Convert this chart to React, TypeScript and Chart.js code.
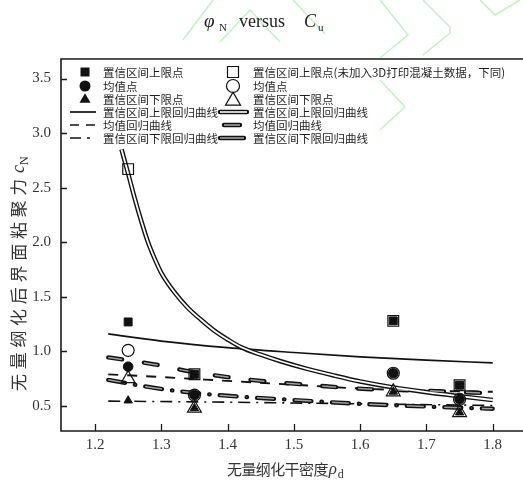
import React, { useEffect, useRef } from "react";
import { Chart, registerables } from "chart.js";

Chart.register(...registerables);

// Axis ticks
const densityTicks = [1.2, 1.3, 1.4, 1.5, 1.6, 1.7, 1.8];
const cohesionTicks = [0.5, 1.0, 1.5, 2.0, 2.5, 3.0, 3.5];

// Measured points, all specimens
const densities = [1.25, 1.35, 1.65, 1.75];
const upperPoints = [1.27, 0.79, 1.28, 0.69];
const meanPoints = [0.86, 0.6, 0.8, 0.56];
const lowerPoints = [0.55, 0.48, 0.63, 0.44];

// Measured points without the 3D printed concrete specimens
const upperPointsNo3D = [2.67, 0.79, 1.28, 0.69];
const meanPointsNo3D = [1.01, 0.6, 0.8, 0.56];
const lowerPointsNo3D = [0.75, 0.48, 0.63, 0.44];

// Regression curves, all specimens
const upperFitX = [1.22, 1.3, 1.4, 1.5, 1.6, 1.7, 1.8];
const upperFitY = [1.16, 1.095, 1.035, 0.99, 0.95, 0.92, 0.895];
const meanFitX = [1.22, 1.3, 1.4, 1.5, 1.6, 1.7, 1.8];
const meanFitY = [0.79, 0.765, 0.73, 0.695, 0.66, 0.64, 0.63];
const lowerFitX = [1.22, 1.4, 1.6, 1.8];
const lowerFitY = [0.545, 0.535, 0.52, 0.505];

// Regression curves without the 3D printed concrete specimens
const upperFitNo3DX = [
  1.24, 1.25, 1.26, 1.27, 1.28, 1.29, 1.3, 1.32, 1.34, 1.36, 1.38, 1.4, 1.42, 1.45, 1.48, 1.52, 1.56, 1.6, 1.65,
  1.7, 1.75, 1.8,
];
const upperFitNo3DY = [
  2.85, 2.63, 2.4, 2.19, 2.0, 1.85, 1.72, 1.54, 1.4, 1.29, 1.19, 1.11, 1.04, 0.97, 0.91, 0.84, 0.78, 0.725, 0.67,
  0.627, 0.59, 0.555,
];
const meanFitNo3DX = [1.22, 1.26, 1.3, 1.34, 1.4, 1.45, 1.51, 1.56, 1.61, 1.7, 1.8];
const meanFitNo3DY = [0.945, 0.91, 0.87, 0.82, 0.765, 0.73, 0.7, 0.675, 0.655, 0.64, 0.615];
const lowerFitNo3DX = [1.22, 1.29, 1.35, 1.42, 1.5, 1.6, 1.7, 1.8];
const lowerFitNo3DY = [0.74, 0.665, 0.62, 0.585, 0.555, 0.52, 0.495, 0.475];

// Legend entries
const legendLeft = ["置信区间上限点", "均值点", "置信区间下限点", "置信区间上限回归曲线", "均值回归曲线", "置信区间下限回归曲线"];
const legendRight = ["置信区间上限点(未加入3D打印混凝土数据，下同)", "均值点", "置信区间下限点", "置信区间上限回归曲线", "均值回归曲线", "置信区间下限回归曲线"];

const yAxisTitle = "无量纲化后界面粘聚力";
const xAxisTitle = "无量纲化干密度";

const INK = "#111";
const CJK = '"Noto Sans CJK SC", sans-serif';
const SERIF = '"Liberation Serif", "DejaVu Serif", serif';

const W = 523;
const H = 488;

const pts = (xs: number[], ys: number[]) => xs.map((x, i) => ({ x, y: ys[i] }));

const markerSet = (label: string, ys: number[], style: string, radius: number, filled: boolean) => ({
  label,
  data: pts(densities, ys),
  showLine: false,
  pointStyle: style,
  pointRadius: radius,
  pointBackgroundColor: filled ? INK : "rgba(0,0,0,0)",
  pointBorderColor: INK,
  pointBorderWidth: filled ? 1 : 1.2,
  order: 0,
});

const curve = (label: string, xs: number[], ys: number[], extra: any) => ({
  label,
  data: pts(xs, ys),
  showLine: true,
  pointRadius: 0,
  borderColor: INK,
  backgroundColor: "rgba(0,0,0,0)",
  fill: false,
  cubicInterpolationMode: "monotone",
  borderJoinStyle: "round",
  ...extra,
});

function drawMarker(ctx: CanvasRenderingContext2D, style: string, x: number, y: number, size: number, filled: boolean) {
  ctx.beginPath();
  if (style === "square") {
    ctx.rect(x - size / 2, y - size / 2, size, size);
  } else if (style === "circle") {
    ctx.arc(x, y, size / 2, 0, Math.PI * 2);
  } else {
    const h = size * 0.87;
    ctx.moveTo(x, y - h * 0.6);
    ctx.lineTo(x + size / 2, y + h * 0.4);
    ctx.lineTo(x - size / 2, y + h * 0.4);
    ctx.closePath();
  }
  if (filled) {
    ctx.fillStyle = INK;
    ctx.fill();
  } else {
    ctx.lineWidth = 1.2;
    ctx.strokeStyle = INK;
    ctx.stroke();
  }
}

function drawSample(
  ctx: CanvasRenderingContext2D,
  x0: number,
  x1: number,
  y: number,
  dash: number[],
  outlined: boolean,
  inner = "#a0a0a0"
) {
  ctx.save();
  ctx.beginPath();
  ctx.moveTo(x0, y);
  ctx.lineTo(x1, y);
  ctx.setLineDash(dash);
  if (outlined) {
    ctx.lineCap = "round";
    ctx.lineWidth = 4.4;
    ctx.strokeStyle = INK;
    ctx.stroke();
    ctx.lineCap = "butt";
    ctx.lineWidth = 1.6;
    ctx.strokeStyle = inner;
    ctx.stroke();
  } else {
    ctx.lineCap = "butt";
    ctx.lineWidth = 1.7;
    ctx.strokeStyle = INK;
    ctx.stroke();
  }
  ctx.restore();
}

// Faint green background strokes
const greenStrokes: number[][][] = [
  [[183, 40], [213, 0]],
  [[220, 42], [250, 10], [280, 42]],
  [[293, 0], [325, 34]],
  [[380, 0], [408, 35], [380, 58]],
  [[423, 0], [450, 27], [450, 33], [423, 55]],
  [[480, 0], [495, 15], [520, 0]],
  [[380, 80], [405, 107], [380, 130]],
];

const decorPlugin = {
  id: "decor",
  beforeDraw(chart: any) {
    const ctx = chart.ctx as CanvasRenderingContext2D;
    ctx.save();
    ctx.fillStyle = "#fff";
    ctx.fillRect(0, 0, chart.width, chart.height);
    ctx.strokeStyle = "rgba(140, 235, 140, 0.55)";
    ctx.lineWidth = 1.6;
    ctx.lineJoin = "round";
    greenStrokes.forEach((s) => {
      ctx.beginPath();
      s.forEach(([x, y], i) => (i ? ctx.lineTo(x, y) : ctx.moveTo(x, y)));
      ctx.stroke();
    });
    ctx.restore();
  },
  afterDraw(chart: any) {
    const ctx = chart.ctx as CanvasRenderingContext2D;
    const { left, top, bottom } = chart.chartArea;
    const xs = chart.scales.x;
    const ys = chart.scales.y;
    ctx.save();

    // frame and inward ticks
    ctx.strokeStyle = "#1a1a1a";
    ctx.lineWidth = 1.6;
    ctx.beginPath();
    ctx.moveTo(W, top);
    ctx.lineTo(left, top);
    ctx.lineTo(left, bottom);
    ctx.lineTo(W, bottom);
    ctx.stroke();
    ctx.lineWidth = 1.3;
    ctx.beginPath();
    cohesionTicks.forEach((v) => {
      const py = Math.round(ys.getPixelForValue(v)) + 0.5;
      ctx.moveTo(left, py);
      ctx.lineTo(left + 6, py);
    });
    densityTicks.forEach((v) => {
      const px = Math.round(xs.getPixelForValue(v)) + 0.5;
      ctx.moveTo(px, bottom);
      ctx.lineTo(px, bottom - 7);
    });
    ctx.stroke();

    // title
    ctx.fillStyle = "#222";
    ctx.textBaseline = "alphabetic";
    ctx.textAlign = "left";
    ctx.font = `italic 19px ${SERIF}`;
    ctx.fillText("φ", 204, 27);
    ctx.font = `11px ${SERIF}`;
    ctx.fillText("N", 219, 31);
    ctx.font = `18px ${SERIF}`;
    ctx.fillText("versus", 239, 27);
    ctx.font = `italic 18px ${SERIF}`;
    ctx.fillText("C", 304, 27);
    ctx.font = `11px ${SERIF}`;
    ctx.fillText("u", 318, 31);

    // x axis title
    ctx.fillStyle = "#333";
    ctx.font = `15px ${CJK}`;
    ctx.textBaseline = "middle";
    let cx = 227;
    for (const ch of xAxisTitle) {
      ctx.fillText(ch, cx, 469);
      cx += 14.4;
    }
    ctx.textBaseline = "alphabetic";
    ctx.font = `italic 17px ${SERIF}`;
    ctx.fillText("ρ", cx + 1, 474);
    ctx.font = `12px ${SERIF}`;
    ctx.fillText("d", cx + 10, 478);

    // y axis title
    ctx.save();
    ctx.translate(19, 391);
    ctx.rotate(-Math.PI / 2);
    ctx.font = `17px ${CJK}`;
    ctx.textBaseline = "middle";
    let cy = 0;
    for (const ch of yAxisTitle) {
      ctx.fillText(ch, cy, 0);
      cy += 21.7;
    }
    ctx.textBaseline = "alphabetic";
    ctx.font = `italic 18px ${SERIF}`;
    ctx.fillText("c", cy + 1, 5);
    ctx.font = `12px ${SERIF}`;
    ctx.fillText("N", cy + 9, 9);
    ctx.restore();

    // legend
    const rows = [72, 86, 99, 112, 125, 138];
    ctx.font = `11.5px ${CJK}`;
    ctx.fillStyle = "#1e1e1e";
    ctx.textBaseline = "middle";
    legendLeft.forEach((t, i) => ctx.fillText(t, 103, rows[i] + 0.5));
    legendRight.forEach((t, i) => ctx.fillText(t, 253, rows[i] + 0.5));

    drawMarker(ctx, "square", 85, rows[0], 9, true);
    drawMarker(ctx, "circle", 85, rows[1], 11, true);
    drawMarker(ctx, "triangle", 85, rows[2], 11, true);
    drawSample(ctx, 70, 96, rows[3], [], false);
    drawSample(ctx, 70, 96, rows[4], [9, 7], false);
    drawSample(ctx, 70, 96, rows[5], [11, 6, 3, 6], false);

    drawMarker(ctx, "square", 233, rows[0], 11, false);
    drawMarker(ctx, "circle", 233, rows[1], 13, false);
    drawMarker(ctx, "triangle", 233, rows[2] + 1, 15, false);
    drawSample(ctx, 220, 247, rows[3], [], true, "#fff");
    drawSample(ctx, 224, 240, rows[4], [], true);
    drawSample(ctx, 220, 244, rows[5], [], true);

    ctx.restore();
  },
};

export default function App() {
  const ref = useRef<HTMLCanvasElement | null>(null);

  useEffect(() => {
    if (!ref.current) return;
    const outlinedDash = [14, 22];
    const outlinedDashDot = [17, 10, 0.5, 10];
    const chart = new Chart(ref.current, {
      type: "scatter",
      data: {
        datasets: [
          markerSet("置信区间上限点", upperPoints, "rect", 5.6, true),
          markerSet("均值点", meanPoints, "circle", 4.8, true),
          markerSet("置信区间下限点", lowerPoints, "triangle", 4.8, true),
          markerSet("置信区间上限点(未加入3D打印混凝土数据，下同)", upperPointsNo3D, "rect", 7.6, false),
          markerSet("均值点 ", meanPointsNo3D, "circle", 6, false),
          markerSet("置信区间下限点 ", lowerPointsNo3D, "triangle", 8, false),

          curve("置信区间上限回归曲线", upperFitX, upperFitY, { borderWidth: 1.7, order: 3 }),
          curve("均值回归曲线", meanFitX, meanFitY, { borderWidth: 1.9, borderDash: [10, 9], order: 3 }),
          curve("置信区间下限回归曲线", lowerFitX, lowerFitY, { borderWidth: 1.6, borderDash: [12, 6, 2, 6], order: 3 }),

          curve("置信区间上限回归曲线 ", upperFitNo3DX, upperFitNo3DY, { borderWidth: 4.6, order: 2 }),
          curve("", upperFitNo3DX, upperFitNo3DY, { borderWidth: 1.8, borderColor: "#fff", order: 1 }),
          curve("均值回归曲线 ", meanFitNo3DX, meanFitNo3DY, {
            borderWidth: 4.3,
            borderDash: outlinedDash,
            borderCapStyle: "round",
            order: 2,
          }),
          curve("", meanFitNo3DX, meanFitNo3DY, {
            borderWidth: 1.5,
            borderDash: outlinedDash,
            borderColor: "#a0a0a0",
            order: 1,
          }),
          curve("置信区间下限回归曲线 ", lowerFitNo3DX, lowerFitNo3DY, {
            borderWidth: 4.3,
            borderDash: outlinedDashDot,
            borderCapStyle: "round",
            order: 2,
          }),
          curve("", lowerFitNo3DX, lowerFitNo3DY, {
            borderWidth: 1.5,
            borderDash: outlinedDashDot,
            borderColor: "#a0a0a0",
            order: 1,
          }),
        ] as any,
      },
      options: {
        animation: false,
        responsive: false,
        devicePixelRatio: 1,
        events: [],
        layout: { autoPadding: false, padding: { top: 59, right: 0, left: 0, bottom: 0 } },
        plugins: {
          legend: { display: false },
          tooltip: { enabled: false },
        },
        scales: {
          x: {
            type: "linear",
            min: 1.1487,
            max: 1.8457,
            afterBuildTicks: (s: any) => {
              s.ticks = densityTicks.map((value) => ({ value }));
            },
            afterFit: (s: any) => {
              s.height = H - 431;
              s.paddingLeft = 0;
              s.paddingRight = 0;
            },
            grid: { display: false, drawTicks: false },
            border: { display: false },
            ticks: {
              padding: 5,
              autoSkip: false,
              maxRotation: 0,
              color: "#333",
              font: { family: SERIF, size: 15 },
              callback: (v: any) => Number(v).toFixed(1),
            },
          },
          y: {
            type: "linear",
            min: 0.271,
            max: 3.679,
            afterBuildTicks: (s: any) => {
              s.ticks = cohesionTicks.map((value) => ({ value }));
            },
            afterFit: (s: any) => {
              s.width = 61;
              s.paddingTop = 0;
              s.paddingBottom = 0;
            },
            grid: { display: false, drawTicks: false },
            border: { display: false },
            ticks: {
              padding: 10,
              autoSkip: false,
              color: "#333",
              font: { family: SERIF, size: 15 },
              callback: (v: any) => Number(v).toFixed(1),
            },
          },
        },
      } as any,
      plugins: [decorPlugin],
    });
    return () => chart.destroy();
  }, []);

  return (
    <div style={{ position: "fixed", left: 0, top: 0, width: W, height: H, background: "#fff" }}>
      <canvas ref={ref} width={W} height={H} style={{ display: "block", width: W, height: H }} />
    </div>
  );
}
